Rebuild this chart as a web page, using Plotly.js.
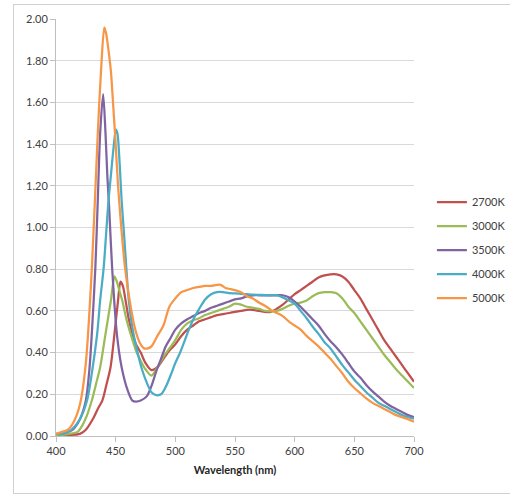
<!DOCTYPE html>
<html>
<head>
<meta charset="utf-8">
<script src="https://cdn.plot.ly/plotly-3.0.1.min.js"></script>
<style>
  html, body { margin:0; padding:0; background:#fff; }
  #wrap { position:relative; width:510px; height:495px; overflow:hidden; }
  #chart { position:absolute; left:0; top:0; width:510px; height:495px; }
  #frame { position:absolute; left:13px; top:4px; width:520px; height:488px; border:1px solid #d0d0d0; pointer-events:none; }
</style>
</head>
<body>
<div id="wrap">
  <div id="chart"></div>
  <div id="frame"></div>
</div>
<script>
// Series names
const seriesNames = ["2700K", "3000K", "3500K", "4000K", "5000K"];

// 2700K
const wl2700 = [400,405,410,420,425,431.7,435,438.8,442,445.7,449,452,454,456,458.3,461,464,467,471,475,480,485,490,495,500,505,510,515,520,525,530,535,540,545,550,555,560,565,570,575,580,585,590,595,600,605,610,615,620,625,630,635,640,645,650,655,660,665,670,675,680,685,690,695,700];
const v2700 = [0.005,0.005,0.005,0.01,0.03,0.09,0.13,0.17,0.24,0.33,0.49,0.65,0.74,0.72,0.65,0.56,0.49,0.44,0.40,0.35,0.316,0.33,0.37,0.41,0.44,0.48,0.51,0.53,0.55,0.56,0.57,0.58,0.585,0.59,0.595,0.60,0.605,0.605,0.60,0.595,0.595,0.61,0.63,0.655,0.68,0.70,0.72,0.74,0.76,0.77,0.775,0.775,0.765,0.74,0.70,0.66,0.61,0.56,0.51,0.46,0.42,0.38,0.34,0.30,0.26];

// 3000K
const wl3000 = [400,405,410,418,422,426,430,434,437,441.5,446,449,451,453,455.5,459,462.5,467,471,475,480,485,490,495,500,505,510,515,520,525,530,535,540,545,550,555,560,565,570,575,580,585,590,595,600,605,610,615,620,625,630,635,640,645,650,655,660,665,670,675,680,685,690,695,700];
const v3000 = [0.005,0.005,0.01,0.02,0.05,0.10,0.17,0.26,0.33,0.49,0.65,0.766,0.74,0.70,0.65,0.56,0.49,0.41,0.36,0.32,0.29,0.33,0.38,0.42,0.46,0.51,0.54,0.555,0.565,0.58,0.59,0.60,0.61,0.62,0.635,0.63,0.62,0.615,0.61,0.60,0.598,0.60,0.61,0.625,0.635,0.64,0.65,0.67,0.685,0.69,0.69,0.685,0.66,0.62,0.59,0.55,0.51,0.47,0.43,0.39,0.355,0.32,0.29,0.26,0.23];

// 3500K
const wl3500 = [400,405,410,414,420,425,428,430,433,435,437,439.5,441.5,443,444.5,447,451,455,460,464,467,471,476,480,484,488,492,496,500,505,510,515,520,525,530,535,540,545,550,555,560,565,570,575,580,585,590,595,600,605,610,615,620,625,630,635,640,645,650,655,660,665,670,675,680,685,690,695,700];
const v3500 = [0.01,0.01,0.02,0.03,0.08,0.17,0.32,0.49,0.81,1.13,1.45,1.64,1.45,1.25,1.10,0.81,0.49,0.33,0.22,0.17,0.165,0.17,0.19,0.24,0.31,0.37,0.43,0.47,0.51,0.54,0.56,0.575,0.59,0.60,0.615,0.625,0.635,0.645,0.655,0.66,0.67,0.675,0.675,0.675,0.675,0.675,0.675,0.665,0.645,0.62,0.59,0.56,0.53,0.49,0.455,0.425,0.39,0.35,0.31,0.28,0.245,0.215,0.19,0.165,0.145,0.13,0.115,0.10,0.09];

// 4000K
const wl4000 = [400,405,410,413,420,426,430,434.5,437,440,442,444,446,448,450.2,451.5,453.5,455,457,459,461,464,468,472,476.5,480,484,488,492,496,500,504,508,512,516,520,525,530,535,540,545,550,555,560,565,570,575,580,585,590,595,600,605,610,615,620,625,630,635,640,645,650,655,660,665,670,675,680,685,690,695,700];
const v4000 = [0.01,0.01,0.02,0.03,0.08,0.17,0.30,0.49,0.65,0.81,0.97,1.13,1.25,1.37,1.47,1.45,1.29,1.13,0.97,0.80,0.65,0.52,0.41,0.32,0.25,0.21,0.196,0.20,0.236,0.29,0.35,0.40,0.46,0.52,0.57,0.61,0.655,0.68,0.69,0.69,0.685,0.684,0.682,0.68,0.678,0.677,0.676,0.675,0.675,0.665,0.65,0.635,0.60,0.565,0.525,0.49,0.45,0.42,0.38,0.34,0.305,0.27,0.24,0.21,0.185,0.16,0.145,0.13,0.115,0.10,0.09,0.083];

// 5000K
const wl5000 = [400,405,410,415,420,425,430,435,438,440.5,442,444,446,448,450,452,455,458,462,466,470,474,477,480,485,490,495,500,505,510,515,520,525,530,535,538,542,546,550,555,560,565,570,575,580,585,590,595,600,605,610,615,620,625,630,635,640,645,650,655,660,665,670,675,680,685,690,695,700];
const v5000 = [0.01,0.02,0.03,0.07,0.15,0.35,0.80,1.45,1.78,1.96,1.93,1.85,1.75,1.58,1.40,1.20,0.98,0.80,0.64,0.52,0.45,0.42,0.42,0.43,0.48,0.53,0.62,0.66,0.69,0.70,0.71,0.715,0.72,0.72,0.725,0.725,0.71,0.705,0.70,0.69,0.67,0.66,0.64,0.625,0.605,0.59,0.575,0.55,0.53,0.51,0.48,0.455,0.43,0.40,0.37,0.335,0.30,0.26,0.23,0.205,0.18,0.16,0.145,0.13,0.115,0.10,0.09,0.08,0.068];

const xTickVals = [400,450,500,550,600,650,700];
const yTickVals = [0,0.2,0.4,0.6,0.8,1.0,1.2,1.4,1.6,1.8,2.0];

const colors = ["#C0504D", "#9BBB59", "#8064A2", "#4BACC6", "#F79646"];
const xs = [wl2700, wl3000, wl3500, wl4000, wl5000];
const ys = [v2700, v3000, v3500, v4000, v5000];

const font = "Lato, 'Open Sans', 'Liberation Sans', sans-serif";

const traces = seriesNames.map((n, i) => ({
  type: "scatter",
  mode: "lines",
  name: n,
  x: xs[i],
  y: ys[i],
  legendgroup: "g" + i,
  line: { color: colors[i], width: 2.25, shape: "spline", smoothing: 0.8 },
  hoverinfo: "skip"
}));

const layout = {
  width: 510,
  height: 495,
  margin: { l: 56, r: 96, t: 19, b: 59, autoexpand: false },
  paper_bgcolor: "#ffffff",
  plot_bgcolor: "#ffffff",
  font: { family: font, size: 11, color: "#404040" },
  showlegend: true,
  legend: {
    x: 1.05, xanchor: "left",
    y: 0.446, yanchor: "middle",
    traceorder: "grouped",
    tracegroupgap: 5,
    itemwidth: 30,
    font: { family: font, size: 11, color: "#404040" },
    bgcolor: "rgba(0,0,0,0)"
  },
  xaxis: {
    range: [400, 700],
    tickvals: xTickVals,
    ticktext: xTickVals.map(String),
    ticks: "outside",
    ticklen: 5,
    tickcolor: "#bfbfbf",
    showline: true,
    linecolor: "#bfbfbf",
    linewidth: 1,
    showgrid: false,
    zeroline: false,
    tickfont: { family: font, size: 11, color: "#404040" },
    title: { text: "<b>Wavelength (nm)</b>", font: { family: font, size: 11, color: "#262626" }, standoff: 10 }
  },
  yaxis: {
    range: [0, 2],
    tickvals: yTickVals,
    ticktext: yTickVals.map(v => v.toFixed(2)),
    ticks: "outside",
    ticklen: 5,
    tickcolor: "#bfbfbf",
    showline: true,
    linecolor: "#bfbfbf",
    linewidth: 1,
    showgrid: true,
    gridcolor: "#d9d9d9",
    gridwidth: 1,
    zeroline: false,
    tickfont: { family: font, size: 11, color: "#404040" }
  }
};

Plotly.newPlot("chart", traces, layout, { staticPlot: true, displayModeBar: false });
</script>
</body>
</html>
